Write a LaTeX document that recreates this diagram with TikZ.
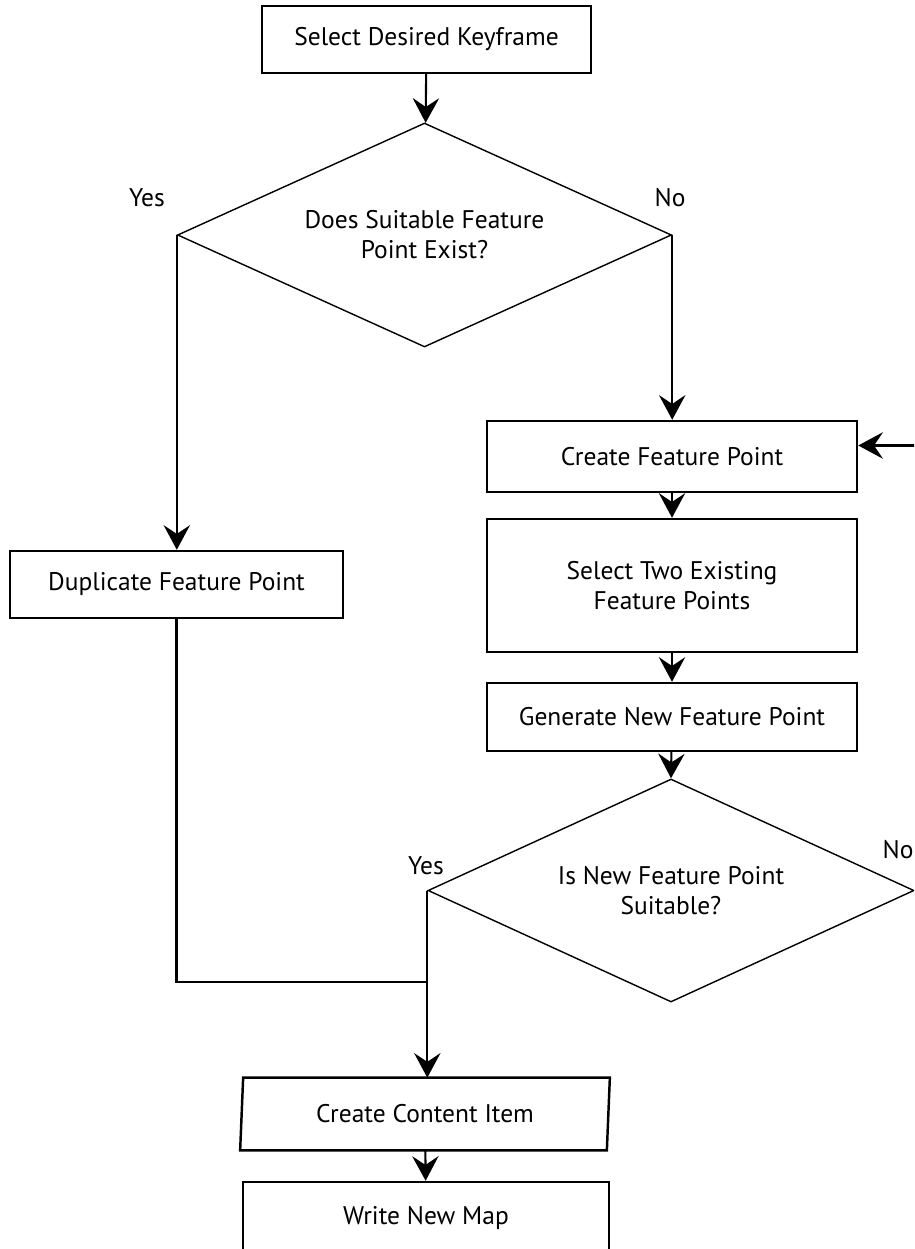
\documentclass[tikz,border=0pt]{standalone}
\usepackage{fontspec}
\setmainfont{PT Sans}
\usepackage{tikz}
\usetikzlibrary{arrows.meta,shapes.geometric}

\begin{document}
\begin{tikzpicture}[scale = 1, >={Stealth[length=14pt,width=15pt,inset=5pt]}]
        \tikzstyle{every node} = [font=\fontsize{14.5}{17}\selectfont, align=center]
        \tikzstyle{stepbox} = [rectangle, draw, line width=1.4pt, minimum width = 7.4cm, inner sep=0pt]
        \tikzstyle{choice} = [diamond, draw, line width=0.8pt, inner sep=0pt, aspect=2.2]
        \tikzstyle{flow} = [line width=1.2pt]
        \useasboundingbox (0,0) rectangle (18.28,-24.98);
        \clip (0,0) rectangle (18.28,-24.98);

        \node(keyframe)[stepbox, minimum width = 6.58cm, minimum height = 1.34cm] at (8.53, -0.79) {Select Desired Keyframe};
        \node(exist)[choice, minimum width = 9.88cm, minimum height = 4.48cm] at (8.49, -4.70) {Does Suitable Feature\\Point Exist?};
        \node(yes1) at (2.94, -3.96) {Yes};
        \node(no1) at (13.40, -3.96) {No};
        \draw [flow, ->] (keyframe) -- (exist);

        \node(duplicate)[stepbox, minimum width = 6.66cm, minimum height = 1.34cm] at (3.53, -11.69) {Duplicate Feature Point};
        \draw [flow, ->] (exist.west) -- (exist.west |- duplicate.north);

        \node(createfp)[stepbox, minimum height = 1.42cm] at (13.44, -9.13) {Create Feature Point};
        \node(selecttwo)[stepbox, minimum height = 2.66cm] at (13.44, -11.71) {Select Two Existing\\Feature Points};
        \node(generate)[stepbox, minimum height = 1.36cm] at (13.44, -14.34) {Generate New Feature Point};
        \draw [flow, ->] (exist.east) -- (exist.east |- createfp.north);
        \draw [flow, ->] (createfp) -- (selecttwo);
        \draw [flow, ->] (selecttwo) -- (generate);

        \node(newok)[choice, minimum width = 9.72cm, minimum height = 4.46cm] at (13.42, -17.81) {Is New Feature Point\\Suitable?};
        \node(yes2) at (8.52, -17.32) {Yes};
        \node(no2) at (17.96, -17.00) {No};
        \draw [flow, ->] (generate) -- (newok.north);
        \draw [flow, ->] (newok.east) -- ++(0.6, 0) |- ([yshift=0.22cm]createfp.east);

        \node(content)[minimum width = 7.32cm, minimum height = 1.44cm, inner sep=0pt] at (8.50, -22.28) {Create Content Item};
        \draw [line width=1.4pt] ([xshift=0.03cm]content.north west) -- ([xshift=0.03cm]content.north east)
            -- ([xshift=-0.03cm]content.south east) -- ([xshift=-0.03cm]content.south west) -- cycle;
        \node(writemap)[stepbox, minimum width = 7.32cm, minimum height = 1.44cm] at (8.52, -24.36) {Write New Map};

        \coordinate(join) at (8.56, -19.64);
        \draw [flow] (duplicate.south) |- (join);
        \draw [flow, ->] (newok.west) -- (newok.west |- content.north);
        \draw [flow, ->] (content) -- (writemap);

    \end{tikzpicture}
\end{document}
